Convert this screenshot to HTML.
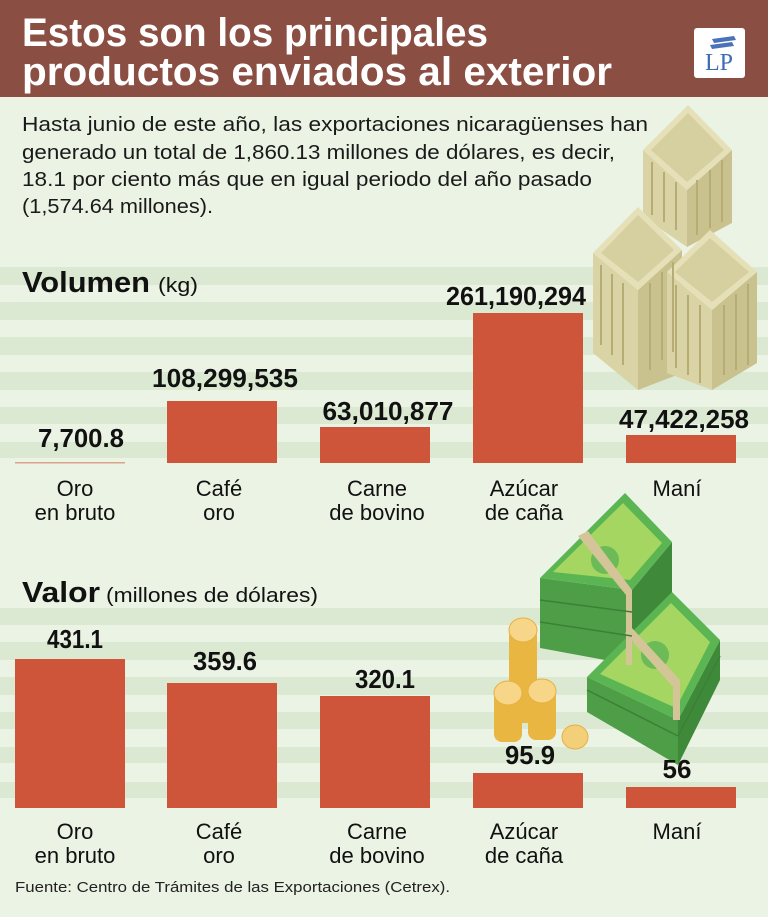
<!DOCTYPE html>
<html><head><meta charset="utf-8"><style>
html,body{margin:0;padding:0;}
body{width:768px;height:917px;overflow:hidden;background:#ebf3e4;}
svg{display:block;}
text{font-family:"Liberation Sans Narrow","Liberation Sans",sans-serif;}
</style></head><body>
<svg width="768" height="917" viewBox="0 0 768 917" xmlns="http://www.w3.org/2000/svg">
<rect x="0" y="0" width="768" height="917" fill="#ebf3e4"/>
<g fill="#dbe9d2">
<rect x="0" y="267" width="768" height="18"/>
<rect x="0" y="302" width="768" height="18"/>
<rect x="0" y="337" width="768" height="18"/>
<rect x="0" y="372" width="768" height="18"/>
<rect x="0" y="407" width="768" height="17"/>
<rect x="0" y="442" width="768" height="16"/>
<rect x="0" y="608" width="768" height="17"/>
<rect x="0" y="642" width="768" height="18"/>
<rect x="0" y="677" width="768" height="18"/>
<rect x="0" y="712" width="768" height="17"/>
<rect x="0" y="747" width="768" height="16"/>
<rect x="0" y="782" width="768" height="16"/>
</g>
<rect x="0" y="0" width="768" height="97" fill="#8a4e43"/>
<text x="22" y="46" font-size="40" font-weight="bold" fill="#fff" textLength="466" lengthAdjust="spacingAndGlyphs">Estos son los principales</text>
<text x="22" y="85" font-size="40" font-weight="bold" fill="#fff" textLength="590" lengthAdjust="spacingAndGlyphs">productos enviados al exterior</text>
<rect x="694" y="28" width="51" height="50" rx="3" fill="#fff"/>
<path d="M712 39 L734 36 L736 40 L714 43 Z M710 45 L732 42 L734 46 L712 49 Z" fill="#4a72b8"/>
<text x="719" y="70" font-size="24" fill="#3f6cb5" text-anchor="middle" style="font-family:'Liberation Serif',serif">LP</text>
<g font-size="20" fill="#1a1a1a">
<text x="22" y="131" textLength="626" lengthAdjust="spacingAndGlyphs">Hasta junio de este año, las exportaciones nicaragüenses han</text>
<text x="22" y="159" textLength="593" lengthAdjust="spacingAndGlyphs">generado un total de 1,860.13 millones de dólares, es decir,</text>
<text x="22" y="186" textLength="570" lengthAdjust="spacingAndGlyphs">18.1 por ciento más que en igual periodo del año pasado</text>
<text x="22" y="213" textLength="191" lengthAdjust="spacingAndGlyphs">(1,574.64 millones).</text>
</g>
<g stroke="none">
 <polygon points="643,150 687,190 687,247 643,217" fill="#d9d3a6"/>
 <polygon points="687,190 732,150 732,223 687,247" fill="#c9c28e"/>
 <polygon points="688,105 732,150 687,190 643,150" fill="#e6e0b8"/>
 <polygon points="688,113 724,150 687,182 651,150" fill="#d6cf9f"/>
 <polygon points="593,253 638,290 638,390 593,353" fill="#d9d3a6"/>
 <polygon points="638,290 682,250 682,373 638,390" fill="#c9c28e"/>
 <polygon points="638,207 682,250 638,290 593,253" fill="#e6e0b8"/>
 <polygon points="638,215 674,250 638,282 601,253" fill="#d6cf9f"/>
 <polygon points="667,272 712,310 712,390 667,373" fill="#d9d3a6"/>
 <polygon points="712,310 757,272 757,363 712,390" fill="#c9c28e"/>
 <polygon points="710,230 757,272 712,310 667,272" fill="#e6e0b8"/>
 <polygon points="710,238 749,272 712,302 675,272" fill="#d6cf9f"/>
 <g stroke="#b5ad74" stroke-width="2">
  <line x1="601" y1="265" x2="601" y2="345"/><line x1="612" y1="274" x2="612" y2="355"/><line x1="623" y1="283" x2="623" y2="365"/>
  <line x1="650" y1="283" x2="650" y2="370"/><line x1="662" y1="272" x2="662" y2="360"/><line x1="673" y1="262" x2="673" y2="352"/>
  <line x1="676" y1="285" x2="676" y2="368"/><line x1="688" y1="295" x2="688" y2="375"/><line x1="700" y1="305" x2="700" y2="383"/>
  <line x1="724" y1="305" x2="724" y2="375"/><line x1="736" y1="294" x2="736" y2="370"/><line x1="748" y1="284" x2="748" y2="365"/>
  <line x1="697" y1="180" x2="697" y2="235"/><line x1="710" y1="170" x2="710" y2="228"/><line x1="722" y1="160" x2="722" y2="222"/>
  <line x1="652" y1="162" x2="652" y2="215"/><line x1="664" y1="172" x2="664" y2="222"/><line x1="676" y1="182" x2="676" y2="230"/>
 </g>
</g>
<text x="22" y="292" font-size="29" font-weight="bold" fill="#111" textLength="128" lengthAdjust="spacingAndGlyphs">Volumen</text>
<text x="158" y="292" font-size="20" fill="#111" textLength="40" lengthAdjust="spacingAndGlyphs">(kg)</text>
<g fill="#cf553a">
<rect x="15" y="462" width="110" height="1.5" fill="#d8a58a"/>
<rect x="167" y="401" width="110" height="62"/>
<rect x="320" y="427" width="110" height="36"/>
<rect x="473" y="313" width="110" height="150"/>
<rect x="626" y="435" width="110" height="28"/>
</g>
<g font-size="26" font-weight="bold" fill="#111" text-anchor="middle">
<text x="81" y="447" textLength="86" lengthAdjust="spacingAndGlyphs">7,700.8</text>
<text x="225" y="387" textLength="146" lengthAdjust="spacingAndGlyphs">108,299,535</text>
<text x="388" y="420" textLength="131" lengthAdjust="spacingAndGlyphs">63,010,877</text>
<text x="516" y="305" textLength="140" lengthAdjust="spacingAndGlyphs">261,190,294</text>
<text x="684" y="428" textLength="130" lengthAdjust="spacingAndGlyphs">47,422,258</text>
</g>
<g font-size="22" fill="#111" text-anchor="middle">
<text x="75" y="496">Oro</text><text x="75" y="520">en bruto</text>
<text x="219" y="496">Café</text><text x="219" y="520">oro</text>
<text x="377" y="496">Carne</text><text x="377" y="520">de bovino</text>
<text x="524" y="496">Azúcar</text><text x="524" y="520">de caña</text>
<text x="677" y="496">Maní</text>
</g>
<g>
 <polygon points="540,578 632,590 632,665 540,648" fill="#4e9e48"/>
 <polygon points="632,590 672,542 672,620 632,665" fill="#3f8a3a"/>
 <polygon points="625,493 672,542 632,590 540,578" fill="#5bb552"/>
 <polygon points="623,503 662,543 630,580 553,572" fill="#a6d662"/>
 <circle cx="605" cy="560" r="14" fill="#6cbb58"/>
 <polygon points="587,677 678,720 678,765 587,712" fill="#4e9e48"/>
 <polygon points="678,720 720,640 720,680 678,765" fill="#3f8a3a"/>
 <polygon points="672,592 720,640 678,720 587,677" fill="#5bb552"/>
 <polygon points="671,603 710,642 676,708 600,674" fill="#a6d662"/>
 <circle cx="655" cy="655" r="14" fill="#6cbb58"/>
 <polygon points="578,536 588,531 632,590 632,665 626,665 626,595" fill="#d3c597"/>
 <polygon points="625,633 632,628 680,680 680,720 673,720 673,687" fill="#d3c597"/>
 <g stroke="#3b8135" stroke-width="1.5"><line x1="540" y1="600" x2="632" y2="612"/><line x1="540" y1="622" x2="632" y2="636"/><line x1="587" y1="690" x2="678" y2="736"/><line x1="678" y1="736" x2="720" y2="656"/></g>
</g>
<g>
 <rect x="509" y="628" width="28" height="95" rx="8" fill="#e9b642"/>
 <ellipse cx="523" cy="630" rx="14" ry="12" fill="#f7d68a" stroke="#e6b140"/>
 <rect x="494" y="690" width="28" height="52" rx="8" fill="#e9b642"/>
 <ellipse cx="508" cy="693" rx="14" ry="12" fill="#f7d68a" stroke="#e6b140"/>
 <rect x="528" y="688" width="28" height="52" rx="8" fill="#e9b642"/>
 <ellipse cx="542" cy="691" rx="14" ry="12" fill="#f7d68a" stroke="#e6b140"/>
 <ellipse cx="575" cy="737" rx="13" ry="12" fill="#f3cf79" stroke="#e6b140"/>
</g>
<text x="22" y="602" font-size="29" font-weight="bold" fill="#111" textLength="78" lengthAdjust="spacingAndGlyphs">Valor</text>
<text x="106" y="602" font-size="20" fill="#111" textLength="212" lengthAdjust="spacingAndGlyphs">(millones de dólares)</text>
<g fill="#cf553a">
<rect x="15" y="659" width="110" height="149"/>
<rect x="167" y="683" width="110" height="125"/>
<rect x="320" y="696" width="110" height="112"/>
<rect x="473" y="773" width="110" height="35"/>
<rect x="626" y="787" width="110" height="21"/>
</g>
<g font-size="26" font-weight="bold" fill="#111" text-anchor="middle">
<text x="75" y="648" textLength="56" lengthAdjust="spacingAndGlyphs">431.1</text>
<text x="225" y="670" textLength="64" lengthAdjust="spacingAndGlyphs">359.6</text>
<text x="385" y="688" textLength="60" lengthAdjust="spacingAndGlyphs">320.1</text>
<text x="530" y="764" textLength="50" lengthAdjust="spacingAndGlyphs">95.9</text>
<text x="677" y="778">56</text>
</g>
<g font-size="22" fill="#111" text-anchor="middle">
<text x="75" y="839">Oro</text><text x="75" y="863">en bruto</text>
<text x="219" y="839">Café</text><text x="219" y="863">oro</text>
<text x="377" y="839">Carne</text><text x="377" y="863">de bovino</text>
<text x="524" y="839">Azúcar</text><text x="524" y="863">de caña</text>
<text x="677" y="839">Maní</text>
</g>
<text x="15" y="892" font-size="15" fill="#222" textLength="435" lengthAdjust="spacingAndGlyphs">Fuente: Centro de Trámites de las Exportaciones (Cetrex).</text>
</svg>
</body></html>
